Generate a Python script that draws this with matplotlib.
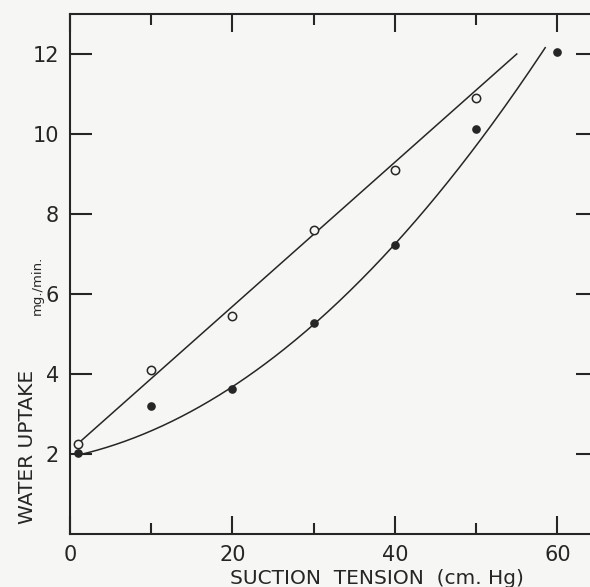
import numpy as np
import matplotlib
matplotlib.use("Agg")
import matplotlib.pyplot as plt
from matplotlib.ticker import MultipleLocator

# Data
open_x = [1, 10, 20, 30, 40, 50]
open_y = [2.25, 4.1, 5.45, 7.6, 9.1, 10.9]
filled_x = [1, 10, 20, 30, 40, 50, 60]
filled_y = [2.02, 3.2, 3.62, 5.27, 7.23, 10.12, 12.05]

# Hand-drawn curve readings
upper_curve_x = [1.2, 55]
upper_curve_y = [2.3, 12.0]
lower_curve_x = [1, 10, 20, 30, 40, 50, 58.5]
lower_curve_y = [2.0, 2.57, 3.62, 5.27, 7.23, 9.8, 12.1]

x_ticks = [0, 20, 40, 60]
y_ticks = [2, 4, 6, 8, 10, 12]

ink = "#262626"
bg = "#f6f6f4"

fig = plt.figure(figsize=(5.90, 5.87), dpi=100, facecolor=bg)
ax = fig.add_axes([70/590, 53/587, 528/590, 520/587], facecolor=bg)

ax.set_xlim(0, 65)
ax.set_ylim(0, 13)

# curves
ax.plot(upper_curve_x, upper_curve_y, color=ink, lw=1.1, zorder=2)
coef = np.polyfit(lower_curve_x, lower_curve_y, 2)
xx = np.linspace(lower_curve_x[0], lower_curve_x[-1], 300)
ax.plot(xx, np.polyval(coef, xx), color=ink, lw=1.1, zorder=2)

# points
ax.plot(open_x, open_y, 'o', ms=6, mfc=bg, mec=ink, mew=1.1, zorder=3)
ax.plot(filled_x, filled_y, 'o', ms=5.2, mfc=ink, mec=ink, zorder=3)

for s in ax.spines.values():
    s.set_color(ink)
    s.set_linewidth(1.5)

ax.set_xticks(x_ticks)
ax.xaxis.set_minor_locator(MultipleLocator(10))
ax.set_yticks(y_ticks)
ax.set_xticklabels([str(t) for t in x_ticks])
ax.set_yticklabels([str(t) for t in y_ticks])

ax.tick_params(axis='both', which='major', direction='in', length=13, width=1.5,
               color=ink, labelcolor=ink, labelsize=15, top=True, right=True)
ax.tick_params(axis='x', which='minor', direction='in', length=8, width=1.5,
               color=ink, top=True)
ax.tick_params(axis='y', which='major', length=16, pad=8)
ax.tick_params(axis='x', which='major', pad=8)

fig.text(28/590, 1 - 447/587, "WATER UPTAKE", rotation=90, ha='center', va='center',
         fontsize=14.5, color=ink)
fig.text(37/590, 1 - 285/587, "mg./min.", rotation=90, ha='center', va='center',
         fontsize=9.5, color=ink)
fig.text(377/590, 1 - 578/587, "SUCTION  TENSION  (cm. Hg)", ha='center', va='center',
         fontsize=14.5, color=ink)

fig.savefig("out.png", dpi=100, facecolor=bg)
